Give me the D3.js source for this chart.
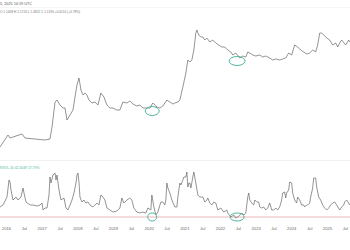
<!DOCTYPE html>
<html>
<head>
<meta charset="utf-8">
<script src="https://cdn.jsdelivr.net/npm/d3@7"></script>
<style>
  body { margin: 0; background: #fff; }
  svg { display: block; font-family: "Liberation Sans", Arial, sans-serif; }
</style>
</head>
<body>
<div id="chart"></div>
<script>
// price series (decimal years / price)
var priceTimes = [2015.832, 2016.056, 2016.112, 2016.448, 2016.532, 2016.812, 2017.092, 2017.232, 2017.289, 2017.373,
  2017.429, 2017.513, 2017.597, 2017.653, 2017.709, 2017.793, 2017.877, 2017.933, 2017.989, 2018.045,
  2018.101, 2018.157, 2018.213, 2018.269, 2018.325, 2018.409, 2018.493, 2018.577, 2018.661, 2018.745,
  2018.829, 2018.913, 2018.997, 2019.109, 2019.193, 2019.277, 2019.389, 2019.473, 2019.557, 2019.669,
  2019.754, 2019.838, 2019.950, 2020.034, 2020.118, 2020.230, 2020.314, 2020.398, 2020.510, 2020.594,
  2020.678, 2020.734, 2020.818, 2020.874, 2020.958, 2021.042, 2021.098, 2021.154, 2021.210, 2021.266,
  2021.322, 2021.350, 2021.406, 2021.462, 2021.518, 2021.574, 2021.630, 2021.714, 2021.798, 2021.882,
  2021.966, 2022.050, 2022.134, 2022.218, 2022.303, 2022.359, 2022.443, 2022.555, 2022.639, 2022.723,
  2022.779, 2022.835, 2022.919, 2023.003, 2023.115, 2023.199, 2023.283, 2023.395, 2023.479, 2023.563,
  2023.675, 2023.759, 2023.843, 2023.927, 2024.011, 2024.095, 2024.179, 2024.263, 2024.347, 2024.431,
  2024.515, 2024.599, 2024.683, 2024.739, 2024.796, 2024.852, 2024.908, 2024.992, 2025.076, 2025.160,
  2025.244, 2025.300, 2025.356, 2025.412, 2025.524, 2025.608, 2025.636]
var priceValues = [0.14, 0.26, 0.23, 0.27, 0.23, 0.22, 0.21, 0.22, 0.34, 0.59,
  0.61, 0.56, 0.53, 0.53, 0.41, 0.46, 0.51, 0.64, 0.76, 0.83,
  0.71, 0.66, 0.68, 0.66, 0.61, 0.58, 0.59, 0.56, 0.68, 0.64,
  0.56, 0.53, 0.53, 0.51, 0.51, 0.59, 0.58, 0.60, 0.57, 0.55,
  0.56, 0.53, 0.53, 0.53, 0.58, 0.54, 0.53, 0.55, 0.61, 0.59,
  0.57, 0.58, 0.59, 0.61, 0.74, 0.88, 1.01, 0.99, 1.01, 1.11,
  1.28, 1.31, 1.26, 1.24, 1.24, 1.21, 1.23, 1.19, 1.21, 1.18,
  1.16, 1.14, 1.14, 1.11, 1.09, 1.06, 1.08, 1.03, 1.05, 1.04,
  1.09, 1.08, 1.06, 1.05, 1.06, 1.04, 1.05, 1.03, 1.01, 1.02,
  1.01, 1.02, 1.03, 1.08, 1.06, 1.16, 1.14, 1.11, 1.09, 1.07,
  1.08, 1.11, 1.09, 1.16, 1.28, 1.28, 1.26, 1.23, 1.21, 1.16,
  1.18, 1.14, 1.18, 1.21, 1.16, 1.21, 1.19]

// oscillator series (lower pane)
var oscTimes = [2015.832, 2015.916, 2016.028, 2016.084, 2016.112, 2016.140, 2016.196, 2016.280, 2016.336, 2016.420,
  2016.476, 2016.504, 2016.560, 2016.672, 2016.756, 2016.868, 2016.952, 2017.008, 2017.036, 2017.092,
  2017.148, 2017.204, 2017.232, 2017.260, 2017.316, 2017.373, 2017.401, 2017.429, 2017.485, 2017.541,
  2017.625, 2017.681, 2017.737, 2017.793, 2017.849, 2017.905, 2017.961, 2017.989, 2018.017, 2018.045,
  2018.073, 2018.129, 2018.185, 2018.241, 2018.297, 2018.353, 2018.437, 2018.549, 2018.605, 2018.661,
  2018.717, 2018.773, 2018.829, 2018.913, 2018.997, 2019.109, 2019.193, 2019.249, 2019.305, 2019.389,
  2019.473, 2019.529, 2019.585, 2019.669, 2019.754, 2019.838, 2019.922, 2019.978, 2020.062, 2020.090,
  2020.146, 2020.202, 2020.258, 2020.342, 2020.398, 2020.454, 2020.482, 2020.510, 2020.538, 2020.594,
  2020.650, 2020.734, 2020.790, 2020.818, 2020.874, 2020.902, 2020.958, 2020.986, 2021.042, 2021.070,
  2021.098, 2021.126, 2021.154, 2021.182, 2021.238, 2021.266, 2021.322, 2021.378, 2021.434, 2021.518,
  2021.574, 2021.630, 2021.658, 2021.714, 2021.770, 2021.826, 2021.882, 2021.938, 2022.022, 2022.106,
  2022.190, 2022.218, 2022.303, 2022.387, 2022.443, 2022.499, 2022.555, 2022.611, 2022.667, 2022.723,
  2022.779, 2022.807, 2022.835, 2022.891, 2022.947, 2022.975, 2023.031, 2023.087, 2023.115, 2023.171,
  2023.227, 2023.283, 2023.339, 2023.395, 2023.451, 2023.507, 2023.563, 2023.619, 2023.675, 2023.731,
  2023.759, 2023.815, 2023.843, 2023.871, 2023.927, 2023.955, 2024.011, 2024.039, 2024.095, 2024.151,
  2024.179, 2024.235, 2024.291, 2024.347, 2024.375, 2024.431, 2024.459, 2024.515, 2024.543, 2024.599,
  2024.627, 2024.683, 2024.711, 2024.767, 2024.823, 2024.879, 2024.936, 2024.992, 2025.048, 2025.104,
  2025.160, 2025.216, 2025.272, 2025.356, 2025.412, 2025.468, 2025.496, 2025.552, 2025.608, 2025.636]
var oscValues = [20, 24, 40, 74, 70, 54, 34, 40, 34, 40,
  58, 48, 30, 24, 24, 22, 24, 28, 14, 18,
  18, 44, 80, 68, 84, 88, 74, 84, 54, 34,
  38, 18, 14, 24, 34, 48, 68, 84, 88, 70,
  40, 30, 34, 28, 30, 24, 20, 28, 24, 44,
  40, 34, 18, 14, 10, 12, 18, 38, 28, 34,
  38, 34, 18, 10, 8, 10, 8, 18, 14, 44,
  20, 4, 10, 30, 30, 24, 34, 68, 58, 48,
  34, 20, 20, 40, 68, 64, 74, 80, 80, 90,
  60, 68, 68, 58, 80, 90, 68, 44, 40, 40,
  30, 34, 38, 28, 24, 30, 28, 14, 18, 10,
  14, 8, 0, 4, -2, 0, 4, 8, 4, 8,
  40, 48, 34, 28, 24, 34, 30, 30, 20, 18,
  20, 14, 18, 28, 14, 14, 18, 14, 20, 34,
  48, 50, 38, 48, 54, 70, 68, 48, 34, 28,
  40, 34, 24, 24, 20, 24, 24, 28, 40, 58,
  78, 78, 60, 40, 34, 24, 18, 14, 18, 24,
  28, 30, 24, 14, 20, 24, 30, 34, 28, 24]
var oscLevel = 0

// x-axis ticks
var tickTimes = [2016, 2016.5, 2017, 2017.5, 2018, 2018.5, 2019, 2019.5, 2020, 2020.5,
  2021, 2021.5, 2022, 2022.5, 2023, 2023.5, 2024, 2024.5, 2025, 2025.5]
var tickLabels = ["2016", "Jul", "2017", "Jul", "2018", "Jul", "2019", "Jul", "2020", "Jul",
  "2021", "Jul", "2022", "Jul", "2023", "Jul", "2024", "Jul", "2025", "Jul"]

// marked lows (circled on both panes)
var markTimes = [2020.1, 2022.48]
var markPrices = [0.50, 1.00]
var markOsc = [0, 0]

var headerLine1 = "5, 2025 14:19 UTC"
var headerLine2 = "O 1.1408  H 1.1720  L 1.0822  C 1.1190  +0.0510 (+4.78%)"
var oscHeader = "RVOL 20  42.4049  17.79%"

function decYear(t) {
  var y = Math.floor(t)
  var a = new Date(y, 0, 1).getTime(), b = new Date(y + 1, 0, 1).getTime()
  return new Date(a + (t - y) * (b - a))
}

var width = 350, height = 250

var svg = d3.select("#chart").append("svg")
  .attr("width", width)
  .attr("height", height)

var x = d3.scaleTime()
  .domain([decYear(2016), decYear(2025)])
  .range([6, 327])

var yPrice = d3.scaleLinear().domain([0, 1.4]).range([161, 21])
var yOsc = d3.scaleLinear().domain([0, 100]).range([217, 167])

var defs = svg.append("defs")
defs.append("clipPath").attr("id", "clipTop")
  .append("rect").attr("x", 0).attr("y", 7).attr("width", width).attr("height", 153)
defs.append("clipPath").attr("id", "clipBottom")
  .append("rect").attr("x", 0).attr("y", 161).attr("width", width).attr("height", 60)

// header
svg.append("text").attr("x", 0).attr("y", 4.5)
  .style("font-size", "3.8px").attr("fill", "#555").text(headerLine1)
svg.append("line").attr("x1", 0).attr("x2", width).attr("y1", 7.5).attr("y2", 7.5)
  .attr("stroke", "#eee").attr("stroke-width", 0.6)
svg.append("text").attr("x", 0).attr("y", 12.5)
  .style("font-size", "3.2px").attr("fill", "#777").text(headerLine2)

// pane separator
svg.append("line").attr("x1", 0).attr("x2", width).attr("y1", 160.5).attr("y2", 160.5)
  .attr("stroke", "#eee").attr("stroke-width", 0.8)
svg.append("text").attr("x", 0).attr("y", 169)
  .style("font-size", "3.4px").attr("fill", "#4cb8a0").text(oscHeader)

// price line
var priceData = priceTimes.map(function(t, i) { return {date: decYear(t), v: priceValues[i]} })
svg.append("path")
  .datum(priceData)
  .attr("clip-path", "url(#clipTop)")
  .attr("fill", "none")
  .attr("stroke", "#666")
  .attr("stroke-width", 0.7)
  .attr("d", d3.line().x(function(d) { return x(d.date) }).y(function(d) { return yPrice(d.v) }))

// oscillator level line
svg.append("line")
  .attr("x1", 0).attr("x2", width)
  .attr("y1", yOsc(oscLevel)).attr("y2", yOsc(oscLevel))
  .attr("stroke", "#e7a5a5").attr("stroke-width", 0.8)

// oscillator line
var oscData = oscTimes.map(function(t, i) { return {date: decYear(t), v: oscValues[i]} })
svg.append("path")
  .datum(oscData)
  .attr("clip-path", "url(#clipBottom)")
  .attr("fill", "none")
  .attr("stroke", "#666")
  .attr("stroke-width", 0.7)
  .attr("d", d3.line().x(function(d) { return x(d.date) }).y(function(d) { return yOsc(d.v) }))

// circled lows
markTimes.forEach(function(t, i) {
  svg.append("ellipse")
    .attr("cx", x(decYear(t))).attr("cy", yPrice(markPrices[i]))
    .attr("rx", i == 0 ? 7 : 8).attr("ry", 4.5)
    .attr("fill", "none").attr("stroke", "#3dae94").attr("stroke-width", 0.9)
  svg.append("ellipse")
    .attr("cx", x(decYear(t))).attr("cy", yOsc(markOsc[i]))
    .attr("rx", i == 0 ? 4.5 : 7).attr("ry", 4)
    .attr("fill", "none").attr("stroke", "#3dae94").attr("stroke-width", 0.9)
})

// x axis
var xAxis = svg.append("g")
  .attr("transform", "translate(0,224)")
  .call(d3.axisBottom(x)
    .tickValues(tickTimes.map(decYear))
    .tickSize(0)
    .tickFormat(function(d, i) { return tickLabels[i] }))
xAxis.select(".domain").remove()
xAxis.selectAll("text")
  .style("font-size", "4.2px")
  .style("font-family", "Liberation Sans, Arial, sans-serif")
  .attr("fill", "#666")
</script>
</body>
</html>
